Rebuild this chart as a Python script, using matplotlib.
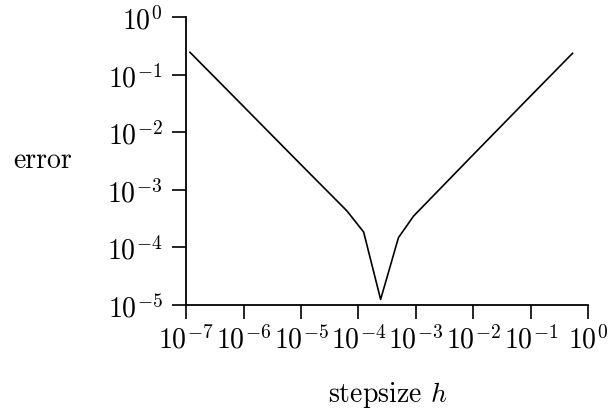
import matplotlib
matplotlib.use('Agg')
import matplotlib.pyplot as plt

plt.rcParams['font.family'] = 'serif'
plt.rcParams['font.serif'] = ['cmr10', 'DejaVu Serif']
plt.rcParams['mathtext.fontset'] = 'cm'
plt.rcParams['axes.formatter.use_mathtext'] = True

# stepsize h and error
h = [1.17e-7, 1e-6, 1e-5, 6.3e-5, 1.23e-4, 2.43e-4, 4.97e-4, 9.1e-4, 1e-2, 1e-1, 0.53]
err = [0.244, 0.028, 2.73e-3, 4.3e-4, 1.85e-4, 1.25e-5, 1.48e-4, 3.5e-4, 4.1e-3, 0.043, 0.234]

fig = plt.figure(figsize=(6.1, 4.1), dpi=100)
ax = fig.add_axes([0.305, 0.2537, 0.6595, 0.7024])
ax.loglog(h, err, color='black', lw=1.2)

ax.set_xlim(1e-7, 1e0)
ax.set_ylim(1e-5, 1e0)
ax.minorticks_off()
ax.set_xticks([10.0**k for k in range(-7, 1)])
ax.set_yticks([10.0**k for k in range(-5, 1)])
ax.tick_params(direction='out', length=10, width=1.2, labelsize=20, pad=4)
ax.tick_params(axis='y', pad=7)

for s in ['top', 'right']:
    ax.spines[s].set_visible(False)
for s in ['left', 'bottom']:
    ax.spines[s].set_linewidth(1.3)

ax.set_ylabel('error', rotation=0, fontsize=20, ha='center', va='baseline')
ax.yaxis.set_label_coords(-0.357, 0.479)
ax.set_xlabel('stepsize $h$', fontsize=20, va='baseline')
ax.xaxis.set_label_coords(0.5, -0.333)

plt.savefig('out.png', dpi=100)
